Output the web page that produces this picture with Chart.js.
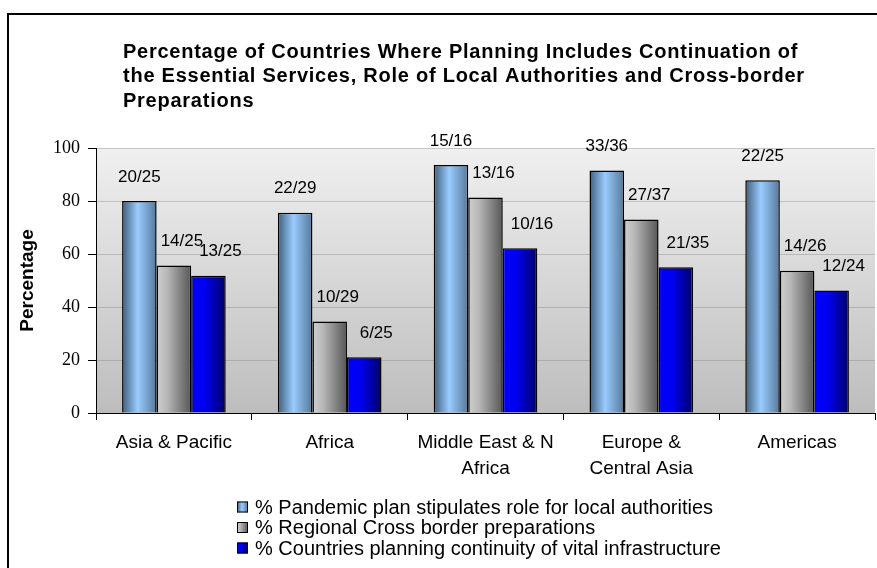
<!DOCTYPE html>
<html>
<head>
    <title>Pandemic planning by region</title>
    <script src="https://cdn.jsdelivr.net/npm/chart.js"></script>
    <style>
        body { margin: 0; background: #fff; }
        .frame { position: absolute; left: 7px; top: 13px; width: 900px; height: 600px; border: 2px solid #000; }
        canvas { position: absolute; left: 0; top: 0; }
    </style>
</head>
<body>
    <div class="frame"></div>
    <canvas id="chart" width="877" height="568"></canvas>

    <script>
        const titleLines = [
            'Percentage of Countries Where Planning Includes Continuation of',
            'the Essential Services, Role of Local Authorities and Cross-border',
            'Preparations'
        ];
        const categories = [
            'Asia & Pacific',
            'Africa',
            ['Middle East & N', 'Africa'],
            ['Europe &', 'Central Asia'],
            'Americas'
        ];
        const seriesNames = [
            '% Pandemic plan stipulates role for local authorities',
            '% Regional Cross border preparations',
            '% Countries planning continuity of vital infrastructure'
        ];
        const localAuthorities = [80, 75.6, 93.6, 91.5, 87.8];
        const crossBorder = [55.7, 34.5, 81.3, 73, 53.7];
        const vitalInfra = [51.8, 21, 62.2, 55, 46.2];
        const localLabels = ['20/25', '22/29', '15/16', '33/36', '22/25'];
        const crossLabels = ['14/25', '10/29', '13/16', '27/37', '14/26'];
        const infraLabels = ['13/25', '6/25', '10/16', '21/35', '12/24'];
        const yTicks = [0, 20, 40, 60, 80, 100];

        const SANS = "'Liberation Sans', Arial, sans-serif";
        const SERIF = "'Liberation Serif', 'Times New Roman', serif";

        // horizontal shading used by each series
        const shades = [
            [[0, '#3f5d7a'], [0.45, '#99ccff'], [1, '#56789a']],
            [[0, '#cfcfcf'], [0.3, '#b8b8b8'], [1, '#565656']],
            [[0, '#0000ff'], [0.4, '#0000f0'], [1, '#000068']]
        ];
        const solid = ['#99ccff', '#a0a0a0', '#0000ff'];

        function barFill(ctx) {
            const chart = ctx.chart;
            const d = ctx.datasetIndex;
            if (ctx.type !== 'data' || !chart.chartArea) return solid[d];
            const x = chart.scales.x;
            const catW = (x.right - x.left) / categories.length;
            const barW = catW * 0.665 / 3;
            const left = x.getPixelForValue(ctx.dataIndex) - 1.5 * barW + d * barW;
            const g = chart.ctx.createLinearGradient(left, 0, left + barW, 0);
            shades[d].forEach(s => g.addColorStop(s[0], s[1]));
            return g;
        }

        const plotBackground = {
            id: 'plotBackground',
            beforeDraw(chart) {
                const { ctx, chartArea: a } = chart;
                const g = ctx.createLinearGradient(0, a.top, 0, a.bottom);
                g.addColorStop(0, '#f0f0f0');
                g.addColorStop(1, '#bdbdbd');
                ctx.save();
                ctx.fillStyle = g;
                ctx.fillRect(a.left, a.top, a.right - a.left, a.bottom - a.top);
                ctx.restore();
            }
        };

        const titleText = {
            id: 'titleText',
            afterDraw(chart) {
                const { ctx, chartArea: a } = chart;
                ctx.save();
                ctx.font = 'bold 20px ' + SANS;
                ctx.letterSpacing = '0.75px';
                ctx.fillStyle = '#000';
                ctx.textBaseline = 'middle';
                ctx.textAlign = 'left';
                titleLines.forEach((line, i) => {
                    ctx.fillText(line, a.left + 27, a.top - 96 + i * 24.5);
                });
                ctx.restore();
            }
        };

        const barLabels = {
            id: 'barLabels',
            afterDatasetsDraw(chart) {
                const { ctx } = chart;
                const shift = [0, 8, 12];
                ctx.save();
                ctx.font = '17px ' + SANS;
                ctx.fillStyle = '#000';
                ctx.textAlign = 'center';
                ctx.textBaseline = 'middle';
                chart.data.datasets.forEach((ds, d) => {
                    chart.getDatasetMeta(d).data.forEach((bar, i) => {
                        ctx.fillText(ds.pointLabels[i], bar.x + shift[d], bar.y - 24);
                    });
                });
                ctx.restore();
            }
        };

        const bottomLegend = {
            id: 'bottomLegend',
            afterDraw(chart) {
                const { ctx, chartArea: a } = chart;
                const left = a.left + 141;
                ctx.save();
                ctx.font = '20px ' + SANS;
                ctx.textBaseline = 'middle';
                ctx.textAlign = 'left';
                chart.data.datasets.forEach((ds, d) => {
                    const y = a.bottom + 94 + d * 20.5;
                    const g = ctx.createLinearGradient(left, 0, left + 11, 0);
                    shades[d].forEach(s => g.addColorStop(s[0], s[1]));
                    ctx.fillStyle = g;
                    ctx.fillRect(left, y - 5.5, 11, 11);
                    ctx.strokeStyle = '#000';
                    ctx.lineWidth = 1;
                    ctx.strokeRect(left + 0.5, y - 5, 10, 10);
                    ctx.fillStyle = '#000';
                    ctx.fillText(ds.label, left + 18, y + 1);
                });
                ctx.restore();
            }
        };

        Chart.defaults.color = '#000';

        new Chart(document.getElementById('chart'), {
            type: 'bar',
            data: {
                labels: categories,
                datasets: [
                    { label: seriesNames[0], data: localAuthorities, pointLabels: localLabels },
                    { label: seriesNames[1], data: crossBorder, pointLabels: crossLabels },
                    { label: seriesNames[2], data: vitalInfra, pointLabels: infraLabels }
                ].map(ds => Object.assign(ds, {
                    backgroundColor: barFill,
                    borderColor: '#000',
                    borderWidth: 1.5,
                    barPercentage: 1,
                    categoryPercentage: 0.665
                }))
            },
            options: {
                responsive: false,
                animation: false,
                events: [],
                layout: { padding: { top: 148, right: 2, bottom: 85, left: 0 } },
                plugins: {
                    legend: { display: false },
                    title: { display: false },
                    tooltip: { enabled: false }
                },
                scales: {
                    x: {
                        afterFit(scale) { scale.height = 70; },
                        grid: {
                            offset: true,
                            drawOnChartArea: false,
                            color: '#000',
                            tickColor: '#000',
                            tickLength: 7
                        },
                        border: { color: '#000', width: 1 },
                        ticks: {
                            font: { family: SANS, size: 19, lineHeight: 1.37 },
                            padding: 10,
                            maxRotation: 0
                        }
                    },
                    y: {
                        min: 0,
                        max: 100,
                        afterFit(scale) { scale.width = 96; },
                        afterBuildTicks(scale) { scale.ticks = yTicks.map(v => ({ value: v })); },
                        grid: {
                            color: 'rgba(120,120,120,0.35)',
                            tickColor: '#000',
                            tickLength: 8
                        },
                        border: { color: '#000', width: 1 },
                        ticks: {
                            font: { family: SERIF, size: 18 },
                            padding: 8
                        },
                        title: {
                            display: true,
                            text: 'Percentage',
                            font: { family: SANS, size: 19, weight: 'bold' },
                            padding: { top: 16, bottom: 4 }
                        }
                    }
                }
            },
            plugins: [plotBackground, titleText, barLabels, bottomLegend]
        });
    </script>
</body>
</html>
